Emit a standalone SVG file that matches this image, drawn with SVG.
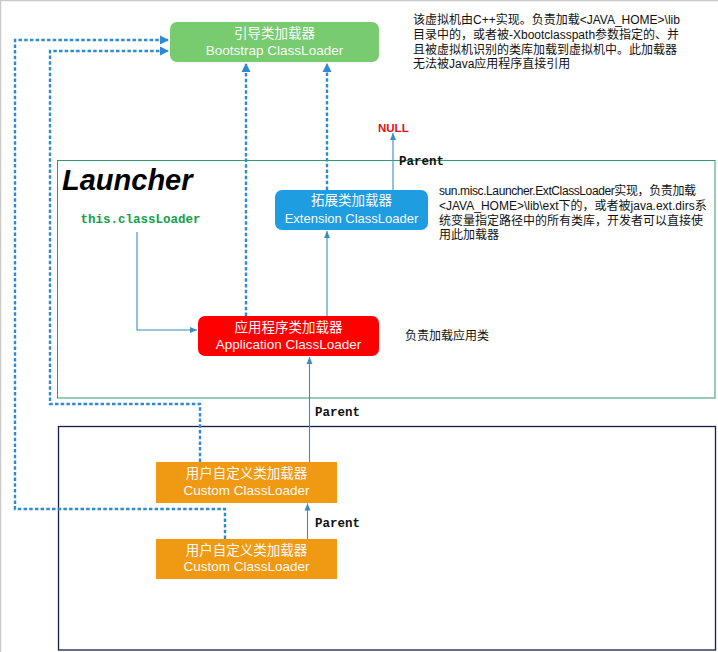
<svg xmlns="http://www.w3.org/2000/svg" width="718" height="652" viewBox="0 0 718 652">
<defs>
<style>
.nodeT{font-family:"Liberation Sans","Noto Sans CJK SC",sans-serif;font-size:13.5px;fill:#fafafa;text-anchor:middle}
.desc{font-family:"Liberation Sans","Noto Sans CJK SC",sans-serif;font-size:12px;fill:#111}
.mono{font-family:"Liberation Mono","DejaVu Sans Mono",monospace;font-weight:bold;font-size:12.5px}
.dash{fill:none;stroke:#2e8bd2;stroke-width:2.4;stroke-dasharray:3.5 2.2}
.solid{fill:none;stroke:#3a8cc6;stroke-width:1.1}
</style>
<marker id="ad" markerWidth="10" markerHeight="10" refX="8" refY="5" orient="auto" markerUnits="userSpaceOnUse">
<path d="M0,0.5 L9,5 L0,9.5 Z" fill="#2e8bd2"/>
</marker>
<marker id="as" markerWidth="8" markerHeight="8" refX="7" refY="4" orient="auto" markerUnits="userSpaceOnUse">
<path d="M0,1 L7,4 L0,7 Z" fill="#3a8cc6"/>
</marker>
</defs>
<rect width="718" height="652" fill="#ffffff"/>
<path d="M0.5,652 V0.5 H718" fill="none" stroke="#c9c9c9" stroke-width="1.5"/>

<g id="launcher-frame">
<rect x="57.5" y="160.5" width="657.5" height="237.5" fill="none" stroke="#2f9b6c" stroke-width="1"/>
<text x="62" y="190" style="font-family:'Liberation Sans',sans-serif;font-weight:bold;font-style:italic;font-size:29px;fill:#000">Launcher</text>
</g>
<g id="custom-frame">
<rect x="58.5" y="426.5" width="657" height="223.5" fill="none" stroke="#14204a" stroke-width="1.3"/>
</g>

<g id="connectors">
<path class="dash" d="M225,539 V509 H15 V40 H168" marker-end="url(#ad)"/>
<path class="dash" d="M200,462 V404 H50 V51 H168" marker-end="url(#ad)"/>
<path class="dash" d="M246,316 V64" marker-end="url(#ad)"/>
<path class="dash" d="M327,190 V64" marker-end="url(#ad)"/>
<path class="solid" d="M327,316 V231" marker-end="url(#as)"/>
<path class="solid" d="M393,190 V133" marker-end="url(#as)"/>
<path class="solid" d="M137,232 V330 H197" marker-end="url(#as)"/>
<path class="solid" d="M309.5,462 V357" marker-end="url(#as)"/>
<path class="solid" d="M307.5,539 V503.5" marker-end="url(#as)"/>
<text class="mono" x="399" y="165" fill="#111">Parent</text>
<text class="mono" x="315" y="416" fill="#111">Parent</text>
<text class="mono" x="315" y="527" fill="#111">Parent</text>
</g>

<g id="bootstrap">
<rect x="170" y="22" width="209" height="40" rx="7" fill="#78cb6f"/>
<text class="nodeT" x="274.5" y="38">引导类加载器</text>
<text class="nodeT" x="274.5" y="55">Bootstrap ClassLoader</text>
</g>
<g id="bootstrap-note">
<text class="desc" x="413" y="24">该虚拟机由C++实现。负责加载&lt;JAVA_HOME&gt;\lib</text>
<text class="desc" x="413" y="38.5">目录中的，或者被-Xbootclasspath参数指定的、并</text>
<text class="desc" x="413" y="53.5">且被虚拟机识别的类库加载到虚拟机中。此加载器</text>
<text class="desc" x="413" y="68">无法被Java应用程序直接引用</text>
</g>

<g id="null">
<text x="378" y="131.5" style="font-family:'Liberation Sans',sans-serif;font-weight:bold;font-size:11.5px;fill:#e0101a">NULL</text>
</g>

<g id="extension">
<rect x="275" y="190" width="153" height="40" rx="7" fill="#1e9de0"/>
<text class="nodeT" x="351.5" y="205">拓展类加载器</text>
<text class="nodeT" x="351.5" y="222.5" style="font-size:13px">Extension ClassLoader</text>
</g>
<g id="extension-note">
<text class="desc" x="439" y="195" textLength="257">sun.misc.Launcher.ExtClassLoader实现，负责加载</text>
<text class="desc" x="439" y="209.5">&lt;JAVA_HOME&gt;\lib\ext下的，或者被java.ext.dirs系</text>
<text class="desc" x="439" y="224.5">统变量指定路径中的所有类库，开发者可以直接使</text>
<text class="desc" x="439" y="239">用此加载器</text>
</g>

<g id="this-classloader">
<text class="mono" x="80.5" y="223" fill="#12a04a">this.classLoader</text>
</g>

<g id="application">
<rect x="198" y="316" width="181" height="40" rx="7" fill="#ff0000"/>
<text class="nodeT" x="288.5" y="332">应用程序类加载器</text>
<text class="nodeT" x="288.5" y="349">Application ClassLoader</text>
</g>
<g id="application-note">
<text class="desc" x="405" y="339.5">负责加载应用类</text>
</g>

<g id="custom1">
<rect x="156" y="462" width="181" height="41" fill="#ef9a12"/>
<text class="nodeT" x="246.5" y="478">用户自定义类加载器</text>
<text class="nodeT" x="246.5" y="494.5">Custom ClassLoader</text>
</g>
<g id="custom2">
<rect x="156" y="539" width="181" height="40" fill="#ef9a12"/>
<text class="nodeT" x="246.5" y="555">用户自定义类加载器</text>
<text class="nodeT" x="246.5" y="571">Custom ClassLoader</text>
</g>
</svg>
